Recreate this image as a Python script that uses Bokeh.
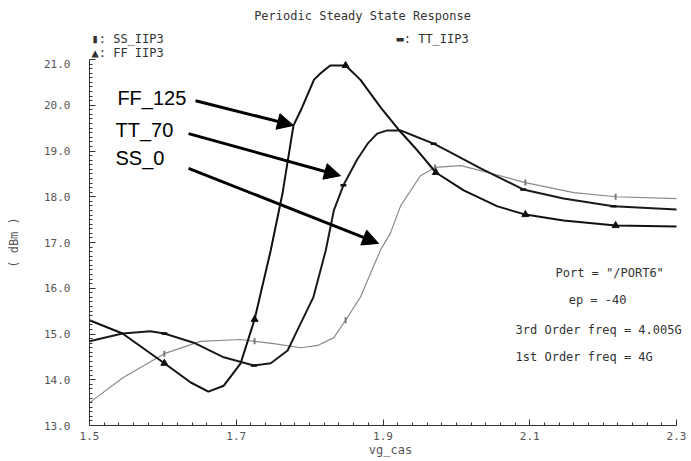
import numpy as np
from bokeh.plotting import figure
from bokeh.layouts import column
from bokeh.models import Label, Arrow, NormalHead, FixedTicker, Range1d, NumeralTickFormatter
from bokeh.embed import file_html
from bokeh.resources import INLINE

# ---- data ----
ff_x = [1.500, 1.545, 1.602, 1.638, 1.662, 1.683, 1.706, 1.725, 1.747, 1.763, 1.778, 1.788,
        1.806, 1.815, 1.828, 1.849, 1.869, 1.897, 1.921, 1.947, 1.972, 2.010, 2.056, 2.094,
        2.146, 2.217, 2.300]
ff_y = [15.30, 15.01, 14.36, 13.94, 13.74, 13.87, 14.36, 15.32, 16.83, 18.07, 19.56, 19.89,
        20.56, 20.70, 20.87, 20.87, 20.56, 19.95, 19.47, 19.01, 18.53, 18.14, 17.79, 17.61,
        17.48, 17.37, 17.35]

tt_x = [1.500, 1.545, 1.583, 1.602, 1.642, 1.683, 1.724, 1.747, 1.770, 1.785, 1.805, 1.822,
        1.833, 1.846, 1.865, 1.879, 1.892, 1.906, 1.924, 1.947, 1.969, 1.992, 2.033, 2.091,
        2.146, 2.214, 2.300]
tt_y = [14.84, 15.01, 15.06, 15.01, 14.81, 14.49, 14.31, 14.36, 14.64, 15.14, 15.80, 16.83,
        17.70, 18.25, 18.82, 19.16, 19.38, 19.45, 19.45, 19.30, 19.16, 18.97, 18.62, 18.16,
        17.96, 17.79, 17.72]

ss_x = [1.500, 1.546, 1.602, 1.651, 1.706, 1.725, 1.751, 1.788, 1.811, 1.833, 1.849, 1.869,
        1.897, 1.910, 1.924, 1.951, 1.971, 2.006, 2.033, 2.094, 2.160, 2.217, 2.300]
ss_y = [13.50, 14.05, 14.57, 14.84, 14.88, 14.84, 14.79, 14.70, 14.75, 14.92, 15.30, 15.80,
        16.85, 17.20, 17.80, 18.46, 18.64, 18.68, 18.57, 18.31, 18.09, 18.00, 17.96]

ff_mx = [1.602, 1.725, 1.849, 1.972, 2.094, 2.217]
ff_my = [14.36, 15.32, 20.87, 18.53, 17.61, 17.37]
tt_mx = [1.602, 1.724, 1.846, 1.969, 2.091, 2.214]
tt_my = [15.01, 14.31, 18.25, 19.16, 18.16, 17.79]
ss_mx = [1.602, 1.725, 1.849, 1.971, 2.094, 2.217]
ss_my = [14.57, 14.84, 15.30, 18.64, 18.31, 18.00]

x_ticks = [1.5, 1.7, 1.9, 2.1, 2.3]
y_ticks = [13, 14, 15, 16, 17, 18, 19, 20, 21]

title_text = "Periodic Steady State Response"
y_label_text = "( dBm )"
x_label_text = "vg_cas"
legend_texts = ["\u25ae: SS_IIP3", "\u25b2: FF_IIP3", "\u25ac: TT_IIP3"]
info_texts = ['Port = "/PORT6"', "ep = -40", "3rd Order freq = 4.005G", "1st Order freq = 4G"]
callout_texts = ["FF_125", "TT_70", "SS_0"]
callout_text_x = [1.538, 1.5354, 1.5354]
callout_text_y = [20.15, 19.45, 18.84]
arrow_x0 = [1.6445, 1.635, 1.635]
arrow_y0 = [20.10, 19.38, 18.62]
arrow_x1 = [1.778, 1.842, 1.894]
arrow_y1 = [19.56, 18.46, 16.98]

MONO = "DejaVu Sans Mono"
GRAY = "#555555"
DARK = "#333333"

# ---------- header strip: title and legend texts ----------
# (its frame is aligned by the column layout with the main frame: pixels 89..691)
head = figure(width=691, height=59, output_backend="svg", toolbar_location=None,
              x_range=Range1d(89, 691), y_range=Range1d(59, 0),
              min_border_left=89, min_border_right=0, min_border_top=0, min_border_bottom=0)
head.axis.visible = False
head.xgrid.visible = False
head.ygrid.visible = False
head.outline_line_color = None
head.border_fill_color = "white"
head.add_layout(Label(x=362, y=15, text=title_text, text_align="center", text_baseline="middle",
                      text_font=MONO, text_font_size="12px", text_color=DARK))
leg_px = [91, 91, 396]
leg_py = [38.5, 52, 38.5]
for t, lx, ly in zip(legend_texts, leg_px, leg_py):
    head.add_layout(Label(x=lx, y=ly, text=t, text_align="left", text_baseline="middle",
                          text_font=MONO, text_font_size="12px", text_color=DARK))

# ---------- main plot ----------
p = figure(width=691, height=402, output_backend="svg", toolbar_location=None,
           x_range=Range1d(1.5, 2.3204), y_range=Range1d(13, 21),
           min_border_left=89, min_border_right=0, min_border_top=0, min_border_bottom=36)
p.outline_line_color = None
p.xgrid.visible = False
p.ygrid.visible = False
p.background_fill_color = "white"
p.border_fill_color = "white"

p.xaxis.bounds = (1.5, 2.3)
p.xaxis.ticker = FixedTicker(ticks=x_ticks, minor_ticks=list(np.round(np.arange(1.5, 2.3001, 0.02), 3)))
p.yaxis.ticker = FixedTicker(ticks=y_ticks, minor_ticks=list(np.round(np.arange(13, 21.001, 0.1), 2)))
p.xaxis.formatter = NumeralTickFormatter(format="0.0")
p.yaxis.formatter = NumeralTickFormatter(format="0.0")
for ax in (p.xaxis, p.yaxis):
    ax.axis_line_color = DARK
    ax.major_tick_line_color = DARK
    ax.minor_tick_line_color = DARK
    ax.major_tick_in = 6
    ax.major_tick_out = 0
    ax.minor_tick_in = 3
    ax.minor_tick_out = 0
    ax.major_label_text_font = MONO
    ax.major_label_text_font_size = "11px"
    ax.major_label_text_color = GRAY
    ax.axis_label_text_font = MONO
    ax.axis_label_text_font_size = "12px"
    ax.axis_label_text_font_style = "normal"
    ax.axis_label_text_color = GRAY
p.xaxis.axis_label = x_label_text
p.yaxis.axis_label = y_label_text
p.xaxis.major_label_standoff = 6
p.xaxis.axis_label_standoff = 0
p.yaxis.major_label_standoff = 19
p.yaxis.axis_label_standoff = 20
p.yaxis.major_label_orientation = "horizontal"

# curves
p.line(ss_x, ss_y, line_color="#8a8a8a", line_width=1.2)
p.line(tt_x, tt_y, line_color="#1a1a1a", line_width=2)
p.line(ff_x, ff_y, line_color="#111111", line_width=2)
p.scatter(ss_mx, ss_my, marker="dash", angle=np.pi / 2, size=6, line_color="#777777", line_width=2)
p.scatter(tt_mx, tt_my, marker="dash", size=6, line_color="#111111", line_width=2.5)
p.scatter(ff_mx, ff_my, marker="triangle", size=7, fill_color="#111111", line_color="#111111")

# info text
info_x = [2.135, 2.153, 2.0806, 2.0806]
info_y = [16.344, 15.754, 15.098, 14.508]
for t, ix, iy in zip(info_texts, info_x, info_y):
    p.add_layout(Label(x=ix, y=iy, text=t, text_align="left", text_baseline="middle",
                       text_font=MONO, text_font_size="12px", text_color=DARK))

# callouts
for t, tx, ty in zip(callout_texts, callout_text_x, callout_text_y):
    p.add_layout(Label(x=tx, y=ty, text=t, text_align="left", text_baseline="middle",
                       text_font="Liberation Sans", text_font_size="20px", text_color="black"))
for x0, y0, x1, y1 in zip(arrow_x0, arrow_y0, arrow_x1, arrow_y1):
    p.add_layout(Arrow(end=NormalHead(size=16, fill_color="black", line_color="black"),
                       x_start=x0, y_start=y0, x_end=x1, y_end=y1,
                       line_color="black", line_width=3))

layout = column(head, p, spacing=0)
open("out.html", "w").write(file_html(layout, INLINE))
